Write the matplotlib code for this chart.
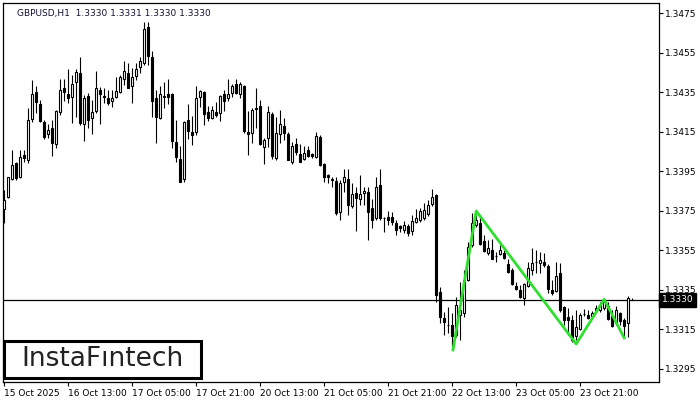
import numpy as np
import matplotlib
matplotlib.use("Agg")
from matplotlib import pyplot as plt
from matplotlib.patches import Rectangle

# GBPUSD H1 candles (open, high, low, close)
opens = [1.33759, 1.33820, 1.33911, 1.33992, 1.33921, 1.34032, 1.34007, 1.34214, 1.34351, 1.34290,
         1.34199, 1.34138, 1.34169, 1.34088, 1.34249, 1.34371, 1.34340, 1.34325, 1.34401, 1.34447,
         1.34189, 1.34330, 1.34219, 1.34255, 1.34361, 1.34330, 1.34320, 1.34305, 1.34325, 1.34351,
         1.34416, 1.34447, 1.34381, 1.34431, 1.34477, 1.34497, 1.34679, 1.34528, 1.34320, 1.34219,
         1.34330, 1.34340, 1.34340, 1.34098, 1.34012, 1.33911, 1.34209, 1.34148, 1.34148, 1.34325,
         1.34351, 1.34249, 1.34219, 1.34249, 1.34244, 1.34340, 1.34320, 1.34346, 1.34391, 1.34340,
         1.34381, 1.34148, 1.34143, 1.34270, 1.34280, 1.34072, 1.34118, 1.34239, 1.34017, 1.34138,
         1.34179, 1.34138, 1.33997, 1.34088, 1.34037, 1.34012, 1.34057, 1.34037, 1.34022, 1.34123,
         1.33987, 1.33931, 1.33911, 1.33901, 1.33744, 1.33896, 1.33911, 1.33774, 1.33840, 1.33810,
         1.33840, 1.33845, 1.33764, 1.33714, 1.33880, 1.33714, 1.33719, 1.33719, 1.33688, 1.33673,
         1.33653, 1.33673, 1.33648, 1.33693, 1.33703, 1.33714, 1.33734, 1.33784, 1.33830, 1.33339,
         1.33208, 1.33173, 1.33173, 1.33122, 1.33223, 1.33233, 1.33400, 1.33577, 1.33678, 1.33688,
         1.33597, 1.33537, 1.33552, 1.33521, 1.33532, 1.33537, 1.33481, 1.33451, 1.33370, 1.33349,
         1.33309, 1.33370, 1.33451, 1.33491, 1.33486, 1.33491, 1.33471, 1.33349, 1.33344, 1.33435,
         1.33264, 1.33213, 1.33198, 1.33117, 1.33152, 1.33228, 1.33223, 1.33218, 1.33248, 1.33248,
         1.33258, 1.33269, 1.33218, 1.33183, 1.33233, 1.33198, 1.33183, 1.33300]
highs = [1.33855, 1.33921, 1.34057, 1.33997, 1.34057, 1.34057, 1.34270, 1.34411, 1.34381, 1.34310,
         1.34209, 1.34189, 1.34209, 1.34260, 1.34416, 1.34416, 1.34467, 1.34437, 1.34467, 1.34528,
         1.34335, 1.34346, 1.34310, 1.34457, 1.34376, 1.34371, 1.34361, 1.34361, 1.34426, 1.34437,
         1.34507, 1.34497, 1.34472, 1.34497, 1.34528, 1.34705, 1.34705, 1.34558, 1.34361, 1.34381,
         1.34401, 1.34416, 1.34346, 1.34209, 1.34078, 1.34204, 1.34290, 1.34229, 1.34381, 1.34361,
         1.34356, 1.34280, 1.34280, 1.34300, 1.34335, 1.34361, 1.34416, 1.34391, 1.34416, 1.34401,
         1.34386, 1.34255, 1.34270, 1.34371, 1.34310, 1.34118, 1.34280, 1.34249, 1.34224, 1.34260,
         1.34219, 1.34148, 1.34098, 1.34118, 1.34088, 1.34078, 1.34078, 1.34042, 1.34148, 1.34133,
         1.33992, 1.33936, 1.33921, 1.33921, 1.33906, 1.33961, 1.33961, 1.33890, 1.33870, 1.33931,
         1.33870, 1.33870, 1.33810, 1.33921, 1.33961, 1.33719, 1.33749, 1.33744, 1.33703, 1.33678,
         1.33698, 1.33683, 1.33729, 1.33759, 1.33764, 1.33789, 1.33805, 1.33860, 1.33835, 1.33365,
         1.33238, 1.33264, 1.33233, 1.33314, 1.33390, 1.33451, 1.33592, 1.33739, 1.33744, 1.33719,
         1.33628, 1.33602, 1.33607, 1.33542, 1.33577, 1.33552, 1.33506, 1.33461, 1.33390, 1.33375,
         1.33385, 1.33491, 1.33562, 1.33552, 1.33542, 1.33537, 1.33481, 1.33400, 1.33491, 1.33486,
         1.33269, 1.33258, 1.33223, 1.33248, 1.33233, 1.33253, 1.33248, 1.33243, 1.33274, 1.33289,
         1.33309, 1.33289, 1.33248, 1.33269, 1.33238, 1.33208, 1.33319, 1.33310]
lows = [1.33688, 1.33815, 1.33906, 1.33906, 1.33916, 1.33997, 1.33992, 1.34199, 1.34244, 1.34199,
        1.34113, 1.34118, 1.34027, 1.34067, 1.34234, 1.34305, 1.34295, 1.34194, 1.34224, 1.34184,
        1.34103, 1.34169, 1.34138, 1.34244, 1.34189, 1.34295, 1.34285, 1.34275, 1.34320, 1.34346,
        1.34386, 1.34371, 1.34295, 1.34411, 1.34447, 1.34487, 1.34487, 1.34224, 1.34093, 1.34214,
        1.34270, 1.34290, 1.34067, 1.33997, 1.33896, 1.33896, 1.34113, 1.34083, 1.34133, 1.34275,
        1.34184, 1.34204, 1.34214, 1.34224, 1.34204, 1.34255, 1.34305, 1.34325, 1.34340, 1.34320,
        1.34143, 1.34032, 1.34093, 1.34169, 1.34083, 1.33987, 1.34072, 1.34012, 1.34007, 1.34093,
        1.34108, 1.34007, 1.33987, 1.34032, 1.33997, 1.34007, 1.34022, 1.34017, 1.34017, 1.33976,
        1.33896, 1.33890, 1.33870, 1.33729, 1.33703, 1.33845, 1.33729, 1.33764, 1.33648, 1.33779,
        1.33779, 1.33602, 1.33663, 1.33703, 1.33703, 1.33643, 1.33678, 1.33678, 1.33628, 1.33643,
        1.33638, 1.33623, 1.33628, 1.33688, 1.33693, 1.33703, 1.33724, 1.33774, 1.33289, 1.33183,
        1.33122, 1.33132, 1.33066, 1.33112, 1.33097, 1.33213, 1.33395, 1.33567, 1.33668, 1.33577,
        1.33542, 1.33526, 1.33506, 1.33491, 1.33526, 1.33506, 1.33435, 1.33375, 1.33349, 1.33309,
        1.33274, 1.33365, 1.33425, 1.33435, 1.33435, 1.33466, 1.33334, 1.33324, 1.33339, 1.33238,
        1.33173, 1.33122, 1.33087, 1.33097, 1.33147, 1.33218, 1.33203, 1.33213, 1.33233, 1.33238,
        1.33248, 1.33198, 1.33162, 1.33173, 1.33173, 1.33112, 1.33112, 1.33300]
closes = [1.33805, 1.33921, 1.33981, 1.33916, 1.34022, 1.34017, 1.34209, 1.34340, 1.34300, 1.34204,
          1.34123, 1.34158, 1.34093, 1.34255, 1.34361, 1.34351, 1.34320, 1.34391, 1.34452, 1.34194,
          1.34320, 1.34209, 1.34249, 1.34371, 1.34340, 1.34328, 1.34295, 1.34320, 1.34356, 1.34426,
          1.34457, 1.34371, 1.34426, 1.34467, 1.34507, 1.34669, 1.34533, 1.34305, 1.34224, 1.34340,
          1.34328, 1.34325, 1.34103, 1.34022, 1.33896, 1.34199, 1.34153, 1.34133, 1.34320, 1.34356,
          1.34239, 1.34219, 1.34260, 1.34234, 1.34330, 1.34305, 1.34340, 1.34381, 1.34346, 1.34391,
          1.34153, 1.34138, 1.34260, 1.34267, 1.34088, 1.34108, 1.34249, 1.34027, 1.34143, 1.34189,
          1.34143, 1.34007, 1.34078, 1.34047, 1.33997, 1.34042, 1.34027, 1.34027, 1.34128, 1.33981,
          1.33921, 1.33921, 1.33908, 1.33739, 1.33890, 1.33921, 1.33779, 1.33835, 1.33815, 1.33835,
          1.33850, 1.33744, 1.33703, 1.33870, 1.33714, 1.33711, 1.33703, 1.33693, 1.33653, 1.33663,
          1.33678, 1.33638, 1.33698, 1.33714, 1.33749, 1.33754, 1.33779, 1.33820, 1.33324, 1.33213,
          1.33188, 1.33170, 1.33117, 1.33274, 1.33248, 1.33400, 1.33567, 1.33688, 1.33703, 1.33582,
          1.33547, 1.33562, 1.33506, 1.33519, 1.33552, 1.33511, 1.33441, 1.33380, 1.33355, 1.33314,
          1.33380, 1.33461, 1.33486, 1.33489, 1.33501, 1.33476, 1.33355, 1.33334, 1.33420, 1.33248,
          1.33198, 1.33198, 1.33097, 1.33162, 1.33223, 1.33226, 1.33208, 1.33233, 1.33258, 1.33274,
          1.33289, 1.33203, 1.33167, 1.33248, 1.33193, 1.33167, 1.33309, 1.33300]

# green pattern polyline (bar index, price)
pat_x = [112.2, 118, 143, 150, 155]
pat_y = [1.33046, 1.33749, 1.33076, 1.33302, 1.33107]

last_price = 1.3330
price_ticks = [1.3295, 1.3315, 1.3335, 1.3355, 1.3375, 1.3395, 1.3415, 1.3435, 1.3455, 1.3475]
time_pos = [0, 16, 32, 48, 64, 80, 96, 112, 128, 144]
time_labels = ["15 Oct 2025", "16 Oct 13:00", "17 Oct 05:00", "17 Oct 21:00", "20 Oct 13:00",
               "21 Oct 05:00", "21 Oct 21:00", "22 Oct 13:00", "23 Oct 05:00", "23 Oct 21:00"]

fig = plt.figure(figsize=(7, 4), dpi=100)
ax = fig.add_axes([3 / 700, 18 / 400, 656 / 700, 379 / 400])

o = np.array(opens)
h = np.array(highs)
l = np.array(lows)
c = np.array(closes)
x = np.arange(len(o))

ax.vlines(x, l, h, color="black", linewidth=0.8, zorder=2)
up = c >= o
bottom = np.minimum(o, c)
height = np.abs(c - o)
ax.bar(x[up], height[up], bottom=bottom[up], width=0.55, facecolor="white",
       edgecolor="black", linewidth=0.8, zorder=3)
ax.bar(x[~up], height[~up], bottom=bottom[~up], width=0.55, facecolor="black",
       edgecolor="black", linewidth=0.8, zorder=3)

ax.axhline(last_price, color="black", linewidth=0.9, zorder=1)
ax.plot(pat_x, pat_y, color="#2ee02e", linewidth=2, zorder=4)

ax.set_xlim(-0.3, 163.7)
ax.set_ylim(1.32884, 1.34801)

ax.yaxis.tick_right()
ax.set_yticks(price_ticks)
ax.set_yticklabels([f"{p:.4f}" for p in price_ticks])
ax.set_xticks(time_pos)
ax.set_xticklabels(time_labels, ha="left")
ax.tick_params(axis="both", labelsize=6.5, length=3, width=0.8, colors="black", pad=1.5)
ax.tick_params(axis="x", pad=2)
for s in ax.spines.values():
    s.set_linewidth(0.9)

# current price tag on the price scale
ax.text(1.004, last_price, "1.3330", transform=ax.get_yaxis_transform(), ha="left", va="center",
        fontsize=6.5, color="white",
        bbox=dict(boxstyle="square,pad=0.25", facecolor="black", edgecolor="black"))

ax.text(0.021, 0.973, "GBPUSD,H1  1.3330 1.3331 1.3330 1.3330", transform=ax.transAxes,
        fontsize=6.5, color="#111133", va="center", ha="left")

# logo box
fig.patches.append(Rectangle((4 / 700, 22 / 400), 197 / 700, 37 / 400, transform=fig.transFigure,
                             facecolor="white", edgecolor="black", linewidth=2.2, zorder=5))
fig.text(102 / 700, 40.5 / 400, "InstaF\u0131ntech", fontsize=19, color="#222222",
         ha="center", va="center", zorder=6)

fig.savefig("out.png", dpi=100)
